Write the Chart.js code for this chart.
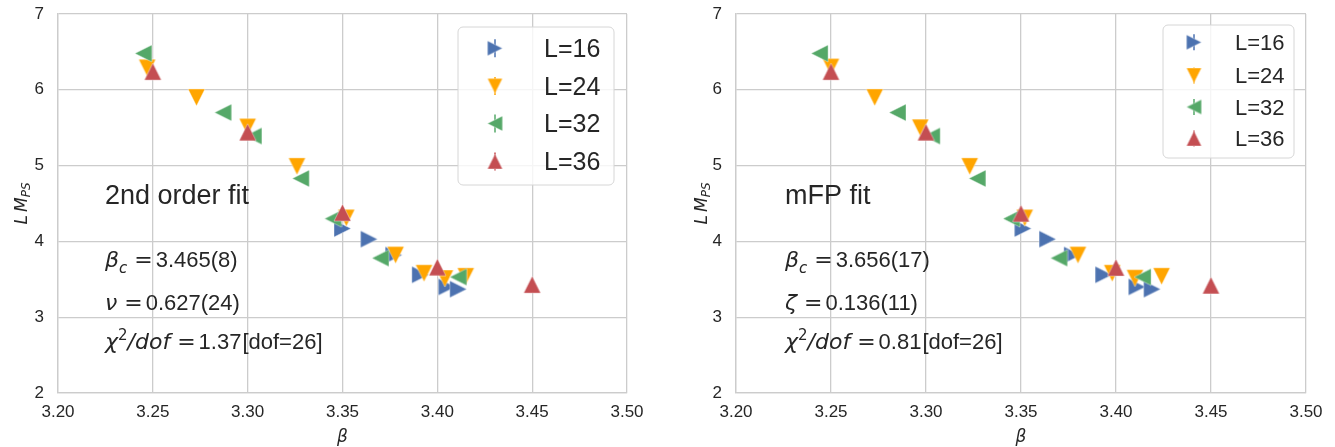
<!DOCTYPE html>
<html>
<head>
<meta charset="utf-8">
<script src="https://cdn.jsdelivr.net/npm/chart.js@4.4.1/dist/chart.umd.min.js"></script>
<style>
  body { margin: 0; background: #fff; }
  canvas { position: absolute; top: 0; }
  #left { left: 0; }
  #right { left: 668px; }
</style>
</head>
<body>
<canvas id="left" width="668" height="447"></canvas>
<canvas id="right" width="667" height="447"></canvas>
<script>
// tick labels
const xTicks = ['3.20', '3.25', '3.30', '3.35', '3.40', '3.45', '3.50'];
const yTicks = [2, 3, 4, 5, 6, 7];
const labels = ['L=16', 'L=24', 'L=32', 'L=36'];

// left panel: 2nd order fit
const beta16L = [3.350, 3.364, 3.377, 3.391, 3.405, 3.411];
const lm16L   = [4.17, 4.03, 3.82, 3.56, 3.40, 3.37];
const beta24L = [3.247, 3.273, 3.300, 3.326, 3.352, 3.378, 3.393, 3.404, 3.415];
const lm24L   = [6.29, 5.90, 5.51, 4.99, 4.31, 3.82, 3.58, 3.51, 3.54];
const beta32L = [3.245, 3.287, 3.303, 3.328, 3.345, 3.370, 3.411];
const lm32L   = [6.48, 5.70, 5.39, 4.83, 4.30, 3.78, 3.53];
const beta36L = [3.25, 3.30, 3.35, 3.40, 3.45];
const lm36L   = [6.24, 5.44, 4.38, 3.66, 3.43];

// right panel: mFP fit
const beta16R = [3.351, 3.364, 3.377, 3.3935, 3.411, 3.419];
const lm16R   = [4.17, 4.03, 3.82, 3.56, 3.40, 3.37];
const beta24R = [3.250, 3.273, 3.297, 3.323, 3.352, 3.380, 3.398, 3.410, 3.424];
const lm24R   = [6.30, 5.90, 5.50, 4.99, 4.31, 3.82, 3.58, 3.515, 3.54];
const beta32R = [3.244, 3.285, 3.303, 3.327, 3.345, 3.370, 3.414];
const lm32R   = [6.48, 5.70, 5.39, 4.83, 4.30, 3.78, 3.53];
const beta36R = [3.25, 3.30, 3.35, 3.40, 3.45];
const lm36R   = [6.24, 5.44, 4.37, 3.655, 3.42];

const colors = ['#4C72B0', '#FFA500', '#55A868', '#C44E52'];
const dirs = ['right', 'down', 'left', 'up'];
const TXT = '#262626';
const GRID = '#cccccc';

// matplotlib-like triangle markers (bbox centred on the point)
function marker(color, dir, s) {
  const c = document.createElement('canvas');
  const m = 1;
  c.width = s + 2 * m; c.height = s + 2 * m;
  const g = c.getContext('2d');
  g.translate(m, m);
  g.beginPath();
  if (dir === 'up') { g.moveTo(s / 2, 0); g.lineTo(s, s); g.lineTo(0, s); }
  if (dir === 'down') { g.moveTo(0, 0); g.lineTo(s, 0); g.lineTo(s / 2, s); }
  if (dir === 'right') { g.moveTo(0, 0); g.lineTo(s, s / 2); g.lineTo(0, s); }
  if (dir === 'left') { g.moveTo(s, 0); g.lineTo(0, s / 2); g.lineTo(s, s); }
  g.closePath();
  g.fillStyle = color;
  g.fill();
  g.lineWidth = 0.5;
  g.strokeStyle = 'rgba(255,255,255,0.8)';
  g.stroke();
  return c;
}

function pts(xs, ys) {
  return xs.map((x, i) => ({ x: x, y: ys[i] }));
}

const MI = px => 'italic ' + px + 'px "DejaVu Sans"';
const MU = px => px + 'px "DejaVu Sans"';
const UP = px => px + 'px "Liberation Sans", Arial, sans-serif';

function drawRun(ctx, x, y, parts) {
  parts.forEach(p => {
    ctx.font = p.f;
    x += p.gap || 0;
    ctx.fillText(p.t, x, y + (p.dy || 0));
    x += ctx.measureText(p.t).width;
  });
}

function runWidth(ctx, parts) {
  let w = 0;
  parts.forEach(p => { ctx.font = p.f; w += (p.gap || 0) + ctx.measureText(p.t).width; });
  return w;
}

function extras(cfg) {
  return {
    id: 'extras',
    afterDraw(chart) {
      const ctx = chart.ctx;
      const a = chart.chartArea;
      ctx.save();
      ctx.fillStyle = TXT;
      ctx.textAlign = 'left';
      ctx.textBaseline = 'alphabetic';

      // fit notes
      ctx.font = UP(27);
      ctx.fillText(cfg.title, 105 - cfg.dx, 204);
      cfg.lines.forEach(l => drawRun(ctx, 105 - cfg.dx, l.y, l.parts));

      // axis titles
      const xl = [{ t: 'β', f: MI(17) }];
      drawRun(ctx, (a.left + a.right) / 2 - runWidth(ctx, xl) / 2, 442, xl);
      const yl = [{ t: 'L', f: MI(17) }, { t: 'M', f: MI(17), gap: 3 }, { t: 'PS', f: MI(12), dy: 3 }];
      ctx.translate(cfg.ylx, (a.top + a.bottom) / 2);
      ctx.rotate(-Math.PI / 2);
      drawRun(ctx, -runWidth(ctx, yl) / 2, 0, yl);
      ctx.restore();

      // legend
      const L = cfg.legend;
      ctx.save();
      ctx.beginPath();
      ctx.roundRect(L.x0, L.y0, L.x1 - L.x0, L.y1 - L.y0, 5);
      ctx.fillStyle = 'rgba(255,255,255,0.8)';
      ctx.fill();
      ctx.lineWidth = 1;
      ctx.strokeStyle = '#d6d6d6';
      ctx.stroke();
      chart.data.datasets.forEach((ds, i) => {
        const y = L.rows[i];
        ctx.strokeStyle = colors[i];
        ctx.lineWidth = 1.5;
        ctx.beginPath();
        ctx.moveTo(L.mx, y - L.bar);
        ctx.lineTo(L.mx, y + L.bar);
        ctx.stroke();
        const img = marker(colors[i], dirs[i], L.ms);
        ctx.drawImage(img, L.mx - img.width / 2, y - img.height / 2);
        ctx.fillStyle = TXT;
        ctx.font = UP(L.fs);
        ctx.fillText(ds.label, L.tx, y + L.fs * 0.358);
      });
      ctx.restore();
    }
  };
}

function makeChart(id, series, yw, padR, cfg) {
  const datasets = series.map((s, i) => ({
    label: labels[i],
    data: pts(s[0], s[1]),
    pointStyle: marker(colors[i], dirs[i], 17),
    pointRadius: 9,
    pointHoverRadius: 9,
    showLine: false,
    order: 3 - i
  }));
  new Chart(document.getElementById(id), {
    type: 'scatter',
    data: { datasets: datasets },
    options: {
      responsive: false,
      animation: false,
      layout: { padding: { left: 0, right: padR, top: 14, bottom: 0 } },
      plugins: { legend: { display: false }, tooltip: { enabled: false } },
      scales: {
        x: {
          type: 'linear', min: 3.20, max: 3.50,
          afterBuildTicks: sc => { sc.ticks = xTicks.map(v => ({ value: parseFloat(v) })); },
          afterFit: sc => { sc.height = 54; sc.paddingLeft = 0; sc.paddingRight = 0; },
          ticks: {
            callback: (v) => xTicks.find(t => Math.abs(parseFloat(t) - v) < 1e-6) || '',
            font: { family: '"Liberation Sans", Arial, sans-serif', size: 17 },
            color: TXT, padding: 9, maxRotation: 0, autoSkip: false
          },
          grid: { color: GRID, lineWidth: 1.3, drawTicks: false },
          border: { color: GRID, width: 1.3 }
        },
        y: {
          type: 'linear', min: 2, max: 7,
          afterBuildTicks: sc => { sc.ticks = yTicks.map(v => ({ value: v })); },
          afterFit: sc => { sc.width = yw; sc.paddingTop = 0; sc.paddingBottom = 0; },
          ticks: {
            font: { family: '"Liberation Sans", Arial, sans-serif', size: 17 },
            color: TXT, padding: 14
          },
          grid: { color: GRID, lineWidth: 1.3, drawTicks: false },
          border: { color: GRID, width: 1.3 }
        }
      }
    },
    plugins: [extras(cfg)]
  });
}

makeChart('left',
  [[beta16L, lm16L], [beta24L, lm24L], [beta32L, lm32L], [beta36L, lm36L]],
  58, 41,
  {
    dx: 0, ylx: 27,
    title: '2nd order fit',
    lines: [
      { y: 267, parts: [{ t: 'β', f: MI(22) }, { t: 'c', f: MI(15), dy: 6, gap: 0 }, { t: '=', f: MU(22), gap: 7 }, { t: '3.465(8)', f: UP(22), gap: 3 }] },
      { y: 310, parts: [{ t: 'ν', f: MI(22) }, { t: '=', f: MU(22), gap: 7 }, { t: '0.627(24)', f: UP(22), gap: 3 }] },
      { y: 349, parts: [{ t: 'χ', f: MI(22) }, { t: '2', f: MU(15), dy: -9 }, { t: '/dof', f: MI(22) }, { t: '=', f: MU(22), gap: 7 }, { t: '1.37', f: UP(22), gap: 3 }, { t: '[dof=26]', f: UP(22), gap: 1 }] }
    ],
    legend: { x0: 458, y0: 27, x1: 614, y1: 185, mx: 495, rows: [48.3, 86, 123.5, 161.5], bar: 9, ms: 15, tx: 544, fs: 25 }
  });

makeChart('right',
  [[beta16R, lm16R], [beta24R, lm24R], [beta32R, lm32R], [beta36R, lm36R]],
  68, 29,
  {
    dx: -12, ylx: 39,
    title: 'mFP fit',
    lines: [
      { y: 267, parts: [{ t: 'β', f: MI(22) }, { t: 'c', f: MI(15), dy: 6, gap: 0 }, { t: '=', f: MU(22), gap: 7 }, { t: '3.656(17)', f: UP(22), gap: 3 }] },
      { y: 310, parts: [{ t: 'ζ', f: MI(22) }, { t: '=', f: MU(22), gap: 7 }, { t: '0.136(11)', f: UP(22), gap: 3 }] },
      { y: 349, parts: [{ t: 'χ', f: MI(22) }, { t: '2', f: MU(15), dy: -9 }, { t: '/dof', f: MI(22) }, { t: '=', f: MU(22), gap: 7 }, { t: '0.81', f: UP(22), gap: 3 }, { t: '[dof=26]', f: UP(22), gap: 1 }] }
    ],
    legend: { x0: 495, y0: 25, x1: 626, y1: 158, mx: 526, rows: [42.3, 75.5, 107, 138.5], bar: 8, ms: 15, tx: 567, fs: 22 }
  });
</script>
</body>
</html>
